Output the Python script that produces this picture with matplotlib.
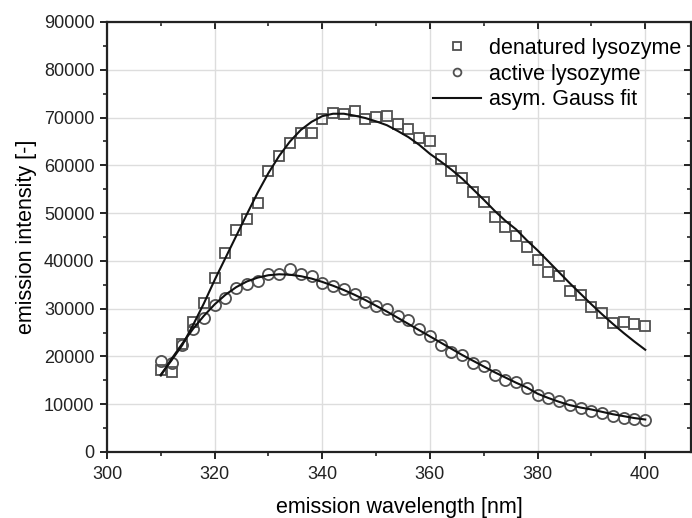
import matplotlib
matplotlib.use('Agg')
from matplotlib import pyplot as plt
from matplotlib.ticker import MultipleLocator

plt.rcParams['font.family'] = ['Liberation Sans', 'DejaVu Sans']

wavelength = list(range(310, 401, 2))

denatured = [17100, 16750, 22700, 27200, 31200, 36500, 41650, 46400, 48700, 52200,
             58800, 61900, 64750, 66850, 66850, 69700, 70900, 70800, 71400, 69800,
             70100, 70400, 68700, 67500, 65800, 65100, 61400, 58800, 57400, 54400,
             52300, 49200, 47100, 45200, 43000, 40100, 37600, 36800, 33700, 32800,
             30350, 29100, 27000, 27300, 26700, 26300]

active = [19050, 18600, 22500, 25800, 28100, 30700, 32300, 34400, 35100, 35800,
          37200, 37200, 38200, 37300, 36800, 35400, 34700, 34100, 33150, 31400,
          30500, 30000, 28400, 27600, 25700, 24200, 22500, 20900, 20200, 18600,
          17900, 16200, 15150, 14650, 13400, 12000, 11400, 10600, 9900, 9300,
          8500, 8200, 7500, 7200, 7000, 6800]

denatured_fit = [16200, 19200, 22400, 26600, 31100, 36000, 40600, 45200, 49800, 54300,
                 58400, 62000, 65000, 67400, 69100, 70300, 70800, 70800, 70400, 69900,
                 69200, 68400, 67200, 65900, 64300, 62400, 60800, 59100, 57200, 55000,
                 52800, 50500, 48400, 46600, 44300, 42200, 39900, 37600, 35300, 33100,
                 30900, 28800, 26800, 24900, 23100, 21400]

active_fit = [16000, 19500, 22700, 25800, 28500, 30900, 32900, 34500, 35700, 36500,
              37000, 37200, 37100, 36800, 36300, 35600, 34800, 33900, 32900, 31800,
              30600, 29400, 28100, 26800, 25500, 24200, 22900, 21600, 20300, 19100,
              17900, 16700, 15600, 14500, 13500, 12200, 11300, 10500, 9800, 9300,
              8900, 8400, 7900, 7500, 7100, 6800]

fig = plt.figure(figsize=(6.92, 5.18), dpi=100)
ax = fig.add_axes([107 / 692, 66 / 518, 584 / 692, 430 / 518])

edge = '#505050'
ax.plot(wavelength, denatured, linestyle='none', marker='s', markersize=7.5,
        markerfacecolor='none', markeredgecolor=edge, markeredgewidth=1.3,
        label='denatured lysozyme', zorder=3)
ax.plot(wavelength, active, linestyle='none', marker='o', markersize=8,
        markerfacecolor='none', markeredgecolor=edge, markeredgewidth=1.3,
        label='active lysozyme', zorder=3)
ax.plot(wavelength, denatured_fit, color='#111111', linewidth=1.5,
        label='asym. Gauss fit', zorder=4)
ax.plot(wavelength, active_fit, color='#111111', linewidth=1.5, zorder=4)

ax.set_xlim(300, 408.5)
ax.set_ylim(0, 90000)
ax.xaxis.set_major_locator(MultipleLocator(20))
ax.xaxis.set_minor_locator(MultipleLocator(10))
ax.yaxis.set_major_locator(MultipleLocator(10000))
ax.yaxis.set_minor_locator(MultipleLocator(5000))

ax.grid(True, which='major', color='#dddddd', linewidth=1.0, zorder=0)
ax.set_axisbelow(True)

for side in ax.spines:
    ax.spines[side].set_linewidth(1.6)
    ax.spines[side].set_color('#222222')

ax.tick_params(axis='both', which='major', direction='out', length=5, width=1.4,
               labelsize=13, colors='#222222', pad=4)
ax.tick_params(axis='x', which='major', pad=5)
ax.tick_params(axis='both', which='minor', direction='out', length=3, width=1.2,
               colors='#222222')
ax.tick_params(axis='both', which='both', top=True, right=True)

# top and right ticks point inward, Origin style
for tick in ax.xaxis.get_major_ticks() + ax.xaxis.get_minor_ticks():
    tick.tick2line.set_marker(3)
for tick in ax.yaxis.get_major_ticks() + ax.yaxis.get_minor_ticks():
    tick.tick2line.set_marker(0)

ax.set_xlabel('emission wavelength [nm]', fontsize=15.5, labelpad=10)
ax.set_ylabel('emission intensity [-]', fontsize=15.5, labelpad=5)

leg = ax.legend(loc='upper right', bbox_to_anchor=(1.0086, 0.998), frameon=False,
                fontsize=15.5, handlelength=2.2, handletextpad=0.37,
                labelspacing=0.22, borderaxespad=0.3, markerscale=0.7)

fig.savefig('out.png', dpi=100)
